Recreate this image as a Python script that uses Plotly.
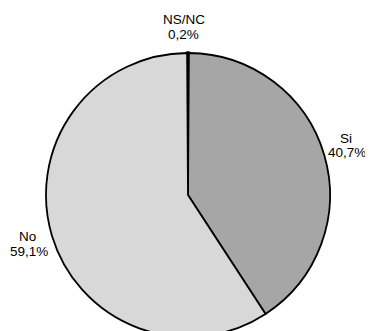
import plotly.graph_objects as go

labels = ["NS/NC", "Si", "No"]
values = [0.2, 40.7, 59.1]
colors = ["#000000", "#a6a6a6", "#d8d8d8"]

# label placement in paper coordinates (name line, percent line)
label_pos = {
    "NS/NC": [(0.4842, 1.1162), (0.4842, 1.0634)],
    "Si": [(1.0563, 0.7007), (1.0599, 0.6479)],
    "No": [(-0.0651, 0.3556), (-0.0599, 0.3028)],
}

fig = go.Figure(go.Pie(
    labels=labels,
    values=values,
    sort=False,
    direction="clockwise",
    rotation=-0.36,
    automargin=False,
    marker=dict(colors=colors, line=dict(color="#000000", width=[3.5, 1.8, 1.8])),
    textinfo="none",
    showlegend=False,
    hoverinfo="label+percent",
))

total = sum(values)
font = dict(family="Liberation Sans, Arial, sans-serif", size=13.5, color="#000000")
for lab, val in zip(labels, values):
    pct = f"{val / total * 100:.1f}%".replace(".", ",")
    (x1, y1), (x2, y2) = label_pos[lab]
    for txt, x, y in ((lab, x1, y1), (pct, x2, y2)):
        fig.add_annotation(
            text=txt, x=x, y=y, xref="paper", yref="paper",
            xanchor="center", yanchor="middle", showarrow=False, font=font,
        )

fig.update_layout(
    width=365,
    height=329,
    margin=dict(l=38, r=43, t=45, b=0, autoexpand=False),
    paper_bgcolor="white",
    plot_bgcolor="white",
    separators=",.",
)

fig.write_html("out.html")
